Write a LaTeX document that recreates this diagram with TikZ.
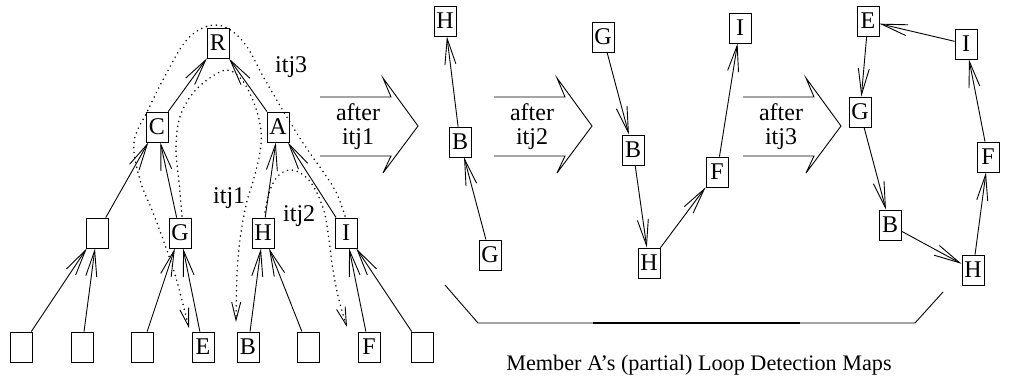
\documentclass[tikz,border=0pt]{standalone}
\usepackage{fontspec}
\setmainfont{Liberation Serif}
\usetikzlibrary{arrows.meta}
\begin{document}
\begin{tikzpicture}[x=1pt,y=-1pt,
  box/.style={draw, line width=0.9pt, minimum width=22pt, minimum height=30pt,
    inner sep=0pt, font=\fontsize{24}{26}\selectfont},
  link/.style={draw, line width=0.9pt,
    -{Straight Barb[length=26pt,width=11pt,line width=0.9pt]}},
  trace/.style={line width=1.7pt, dash pattern=on 0pt off 5pt, line cap=round,
    -{Straight Barb[length=18pt,width=9pt,line width=0.9pt]}},
  lbl/.style={font=\fontsize{24}{26}\selectfont, inner sep=0pt},
  bigarrow/.style={line width=0.9pt}]
\useasboundingbox (0,0) rectangle (1009,376);

% ---- spanning tree ----
\node[box] (R) at (218,43) {R};
\node[box] (C) at (157,127) {C};
\node[box] (A) at (278,127) {A};
\node[box] (L1) at (97,233) {};
\node[box] (G) at (180,233) {G};
\node[box] (H) at (263,233) {H};
\node[box] (I) at (346,233) {I};
\node[box] (b1) at (21,347) {};
\node[box] (b2) at (82,347) {};
\node[box] (b3) at (142,347) {};
\node[box] (E) at (203,347) {E};
\node[box] (B) at (248,347) {B};
\node[box] (b6) at (308,347) {};
\node[box] (F) at (369,347) {F};
\node[box] (b8) at (422,347) {};

\draw[link] (C) -- (R);
\draw[link] (A) -- (R);
\draw[link] (L1) -- (C);
\draw[link] (G) -- (C);
\draw[link] (H) -- (A);
\draw[link] (I) -- (A);
\draw[link] (b1) -- (L1);
\draw[link] (b2) -- (L1);
\draw[link] (b3) -- (G);
\draw[link] (E) -- (G);
\draw[link] (B) -- (H);
\draw[link] (b6) -- (H);
\draw[link] (F) -- (I);
\draw[link] (b8) -- (I);

% ---- join traces ----
\draw[trace] plot[smooth, tension=0.6] coordinates {(345,216) (336,192) (322,170)
  (305,146) (285,114) (264,78) (245,44) (225,27) (205,27) (185,42) (165,76)
  (148,110) (134,142) (140,180) (152,210) (164,242) (176,278) (189,328)};
\draw[trace] plot[smooth, tension=0.6] coordinates {(182,216) (179,182) (176,150)
  (179,120) (190,97) (207,80) (227,70) (242,80) (254,103) (261,130) (260,152)
  (254,178) (246,205) (240,240) (237,275) (236,322)};
\draw[trace] plot[smooth, tension=0.6] coordinates {(265,212) (270,190) (279,175)
  (292,170) (307,178) (318,195) (325,215) (329,240) (333,270) (339,300) (347,327)};

\node[lbl, anchor=base west] (t3) at (275,72) {itj3};
\node[lbl, anchor=base west] (t1) at (213,203) {itj1};
\node[lbl, anchor=base west] (t2) at (283,221) {itj2};

% ---- block arrows between the maps ----
\foreach \dx/\it in {0/1, 174/2, 423/3} {
  \begin{scope}[xshift=\dx pt]
    \draw[bigarrow] (320,97) -- (391,97) -- (383,78) -- (418,126)
      -- (383,173) -- (391,156) -- (320,156);
    \node[lbl, anchor=base] at (358,120) {after};
    \node[lbl, anchor=base] at (358,144) {itj\it};
  \end{scope}
}

% ---- map after itj1 ----
\node[box] (pH) at (445,21) {H};
\node[box] (pB) at (460,142) {B};
\node[box] (pG) at (490,255) {G};
\draw[link] (pB) -- (pH);
\draw[link] (pG) -- (pB);

% ---- map after itj2 ----
\node[box] (qG) at (603,37) {G};
\node[box] (qB) at (633,150) {B};
\node[box] (qH) at (649,263) {H};
\node[box] (qF) at (717,172) {F};
\node[box] (qI) at (740,28) {I};
\draw[link] (qG) -- (qB);
\draw[link] (qB) -- (qH);
\draw[link] (qH) -- (qF);
\draw[link] (qF) -- (qI);

% ---- map after itj3 ----
\node[box] (rE) at (868,21) {E};
\node[box] (rI) at (966,44) {I};
\node[box] (rG) at (860,112) {G};
\node[box] (rF) at (988,157) {F};
\node[box] (rB) at (890,225) {B};
\node[box] (rH) at (973,270) {H};
\draw[link] (rI) -- (rE);
\draw[link] (rE) -- (rG);
\draw[link] (rG) -- (rB);
\draw[link] (rB) -- (rH);
\draw[link] (rH) -- (rF);
\draw[link] (rF) -- (rI);

% ---- brace under the maps and caption ----
\coordinate (k1) at (445,285);
\coordinate (k2) at (478,323);
\coordinate (k3) at (915,323);
\coordinate (k4) at (943,292);
\draw[line width=0.9pt] (k1) -- (k2) -- (k3) -- (k4);
\draw[line width=1.3pt] (593,323) -- (800,323);
\node[font=\fontsize{22.2}{24}\selectfont, anchor=base, inner sep=0pt] (cap)
  at (699,370) {Member A’s (partial) Loop Detection Maps};
\end{tikzpicture}
\end{document}
